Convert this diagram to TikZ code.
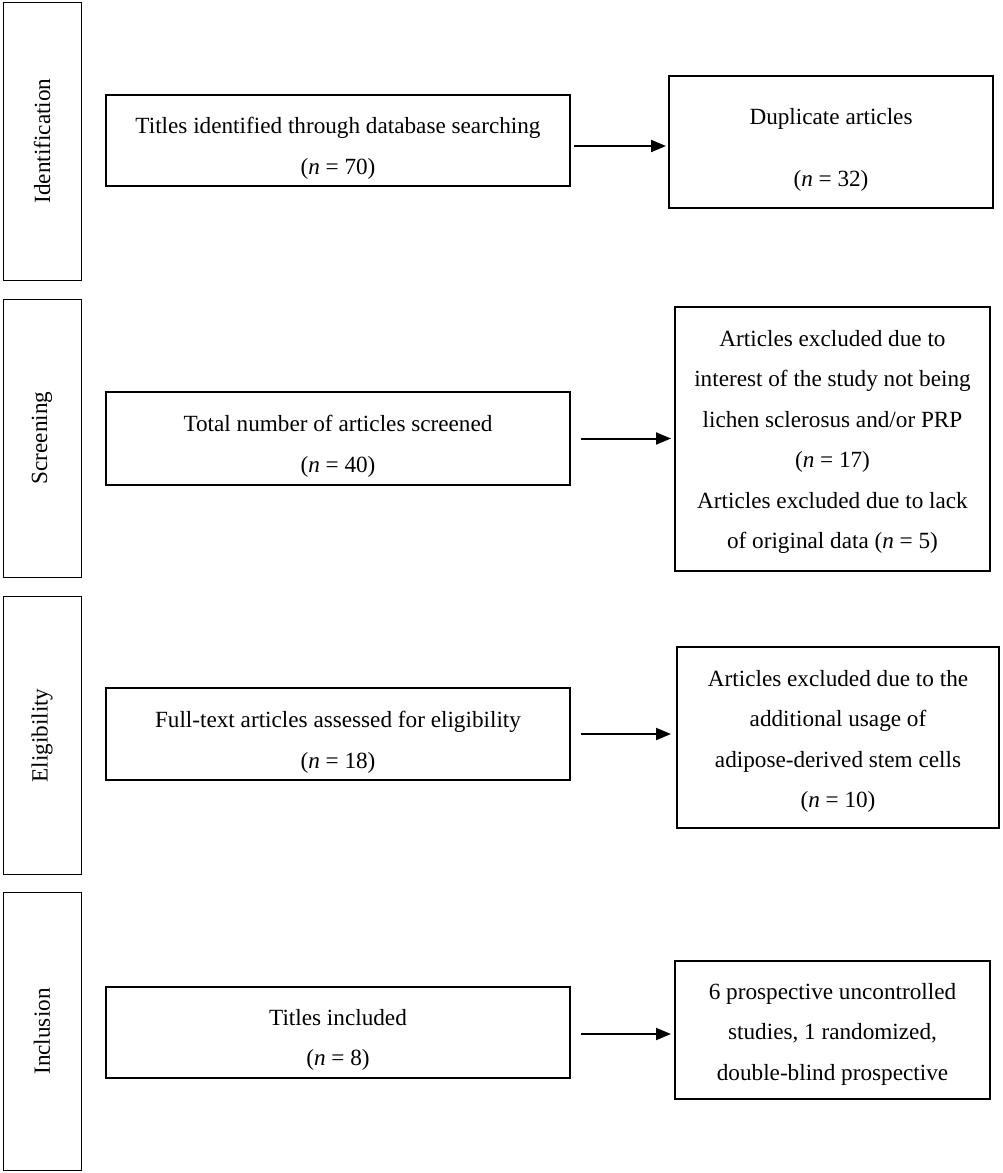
\documentclass[tikz,border=0pt]{standalone}
\usepackage{fontspec}
\setmainfont{Liberation Serif}
\usetikzlibrary{arrows.meta}
\newcommand\topstrut[1]{\rule{0pt}{#1}}
\begin{document}
\begin{tikzpicture}[x=1pt,y=-1pt,
  txt/.style={font=\fontsize{23.2}{40.5}\selectfont, align=center, inner sep=0pt},
  mainbox/.style={txt, draw, line width=2pt, minimum width=464pt, minimum height=91pt},
  sidebox/.style={txt, draw, line width=1pt, rotate=90, minimum width=278pt, minimum height=78pt},
  rbox/.style={txt, draw, line width=2pt},
  arr/.style={line width=2pt, -{Triangle[length=15pt,width=12pt]}}
]
\useasboundingbox (0,0) rectangle (1003,1173);

% side stage boxes
\node[sidebox] (s1) at (42,141) {Identification};
\node[sidebox] (s2) at (42,438) {Screening};
\node[sidebox] (s3) at (42,735.5) {Eligibility};
\node[sidebox] (s4) at (42,1031.5) {Inclusion};

% main boxes
\node[mainbox] (b1) at (338,140.5) {\topstrut{32pt}Titles identified through database searching\\(\textit{n} = 70)};
\node[mainbox, minimum height=93pt] (b2) at (338,438.5) {\topstrut{32pt}Total number of articles screened\\(\textit{n} = 40)};
\node[mainbox, minimum height=92pt] (b3) at (338,734) {\topstrut{33pt}Full-text articles assessed for eligibility\\(\textit{n} = 18)};
\node[mainbox] (b4) at (338,1032.5) {\topstrut{31pt}Titles included\\(\textit{n} = 8)};

% right boxes
\node[rbox, minimum width=324pt, minimum height=132pt] (d1) at (831,142) {\topstrut{32pt}Duplicate articles\\[21pt](\textit{n} = 32)};
\node[rbox, minimum width=315pt, minimum height=264pt] (e2) at (832.5,439) {\topstrut{22pt}Articles excluded due to\\interest of the study not being\\lichen sclerosus and/or PRP\\(\textit{n} = 17)\\Articles excluded due to lack\\of original data (\textit{n} = 5)};
\node[rbox, minimum width=322pt, minimum height=181pt] (e3) at (838,737.5) {\topstrut{24pt}Articles excluded due to the\\additional usage of\\adipose-derived stem cells\\(\textit{n} = 10)};
\node[rbox, minimum width=315pt, minimum height=138pt] (r4) at (832.5,1030) {\topstrut{24pt}6 prospective uncontrolled\\studies, 1 randomized,\\double-blind prospective};

% arrows
\draw[arr, shorten >=2pt] ([xshift=3pt,yshift=-5.5pt]b1.east) -- ([yshift=-5.5pt]b1.east -| d1.west);
\draw[arr, shorten >=3pt] ([xshift=10pt]b2.east) -- (b2.east -| e2.west);
\draw[arr, shorten >=5pt] ([xshift=10pt]b3.east) -- (b3.east -| e3.west);
\draw[arr, shorten >=3pt] ([xshift=10pt,yshift=-1.5pt]b4.east) -- ([yshift=-1.5pt]b4.east -| r4.west);
\end{tikzpicture}
\end{document}
